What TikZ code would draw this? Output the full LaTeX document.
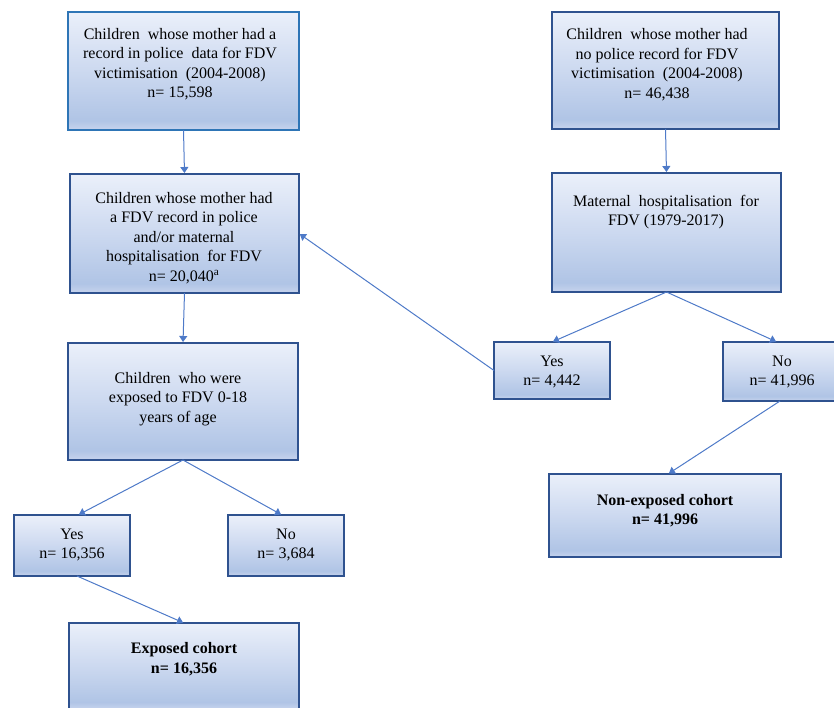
\documentclass[tikz,border=0pt]{standalone}
\usepackage{fontspec}
\setmainfont{Liberation Serif}
\usetikzlibrary{arrows.meta}
\definecolor{boxdark}{RGB}{47,82,143}
\definecolor{boxlight}{RGB}{46,117,182}
\definecolor{arrowblue}{RGB}{78,122,200}
\pgfdeclareverticalshading{boxshade}{100bp}{rgb(0bp)=(0.78,0.83,0.93); rgb(25bp)=(0.78,0.83,0.93); rgb(29bp)=(0.69,0.77,0.90); rgb(50bp)=(0.80,0.85,0.94); rgb(75bp)=(0.92,0.94,0.98); rgb(100bp)=(0.92,0.94,0.98)}
\begin{document}
\begin{tikzpicture}[x=1pt,y=-1pt,
  box/.style={draw=boxdark, line width=2.7pt, shading=boxshade, inner sep=0pt, outer sep=0pt},
  txt/.style={align=center, font=\fontsize{16}{19.5}\selectfont, inner sep=0pt},
  arr/.style={draw=arrowblue, line width=1pt, -{Triangle[length=6pt,width=8pt]}, shorten >=1pt}]
\useasboundingbox (0,0) rectangle (834,707);

% boxes
\node[box, draw=boxlight, minimum width=231pt, minimum height=118pt] (A) at (183.5,71) {};
\node[box, minimum width=227pt, minimum height=117pt] (B) at (665.5,70.5) {};
\node[box, minimum width=229pt, minimum height=119pt] (C) at (184.5,233.5) {};
\node[box, minimum width=229pt, minimum height=119pt] (D) at (666.5,232.5) {};
\node[box, minimum width=230pt, minimum height=117pt] (E) at (183,401.5) {};
\node[box, minimum width=116pt, minimum height=57pt] (F) at (552,370.5) {};
\node[box, minimum width=118pt, minimum height=59pt] (G) at (782,371.5) {};
\node[box, minimum width=116pt, minimum height=61pt] (H) at (72,545.5) {};
\node[box, minimum width=116pt, minimum height=61pt] (I) at (286,545.5) {};
\node[box, minimum width=230pt, minimum height=86pt] (J) at (184,666) {};
\node[box, minimum width=232pt, minimum height=83pt] (K) at (665,515.5) {};

% texts
\node[txt] (tA) at (180,64) {Children\ \ whose mother had a\\record in police\ \ data for FDV\\victimisation\ \ (2004-2008)\\n= 15,598};
\node[txt] (tB) at (657,64.5) {Children\ \ whose mother had\\no police record for FDV\\victimisation\ \ (2004-2008)\\n= 46,438};
\node[txt] (tC) at (184,238) {Children whose mother had\\a FDV record in police\\and/or maternal\\hospitalisation\ \ for FDV\\n= 20,040\textsuperscript{a}};
\node[txt] (tD) at (666,212) {Maternal\ \ hospitalisation\ \ for\\FDV (1979-2017)};
\node[txt] (tE) at (178,399) {Children\ \ who were\\exposed to FDV 0-18\\years of age};
\node[txt] (tF) at (552,372) {Yes\\n= 4,442};
\node[txt] (tG) at (782,372) {No\\n= 41,996};
\node[txt] (tH) at (72,545) {Yes\\n= 16,356};
\node[txt] (tI) at (286,545) {No\\n= 3,684};
\node[txt, font=\fontsize{16}{19.5}\selectfont\bfseries] (tJ) at (184,659) {Exposed cohort\\n= 16,356};
\node[txt, font=\fontsize{16}{19.5}\selectfont\bfseries] (tK) at (665,510.5) {Non-exposed cohort\\n= 41,996};

% connectors
\draw[arr] (A.south) -- (C.north);
\draw[arr] (C.south) -- (E.north);
\draw[arr] (B.south) -- (D.north);
\draw[arr] (D.south) -- (F.north);
\draw[arr] (D.south) -- ([xshift=-5pt]G.north);
\draw[arr] (F.west) -- (C.east);
\draw[arr] (E.south) -- ([xshift=6pt]H.north);
\draw[arr] (E.south) -- ([xshift=-4pt]I.north);
\draw[arr] ([xshift=5pt]H.south) -- (J.north);
\draw[arr] ([xshift=-2pt]G.south) -- ([xshift=3pt]K.north);
\end{tikzpicture}
\end{document}
